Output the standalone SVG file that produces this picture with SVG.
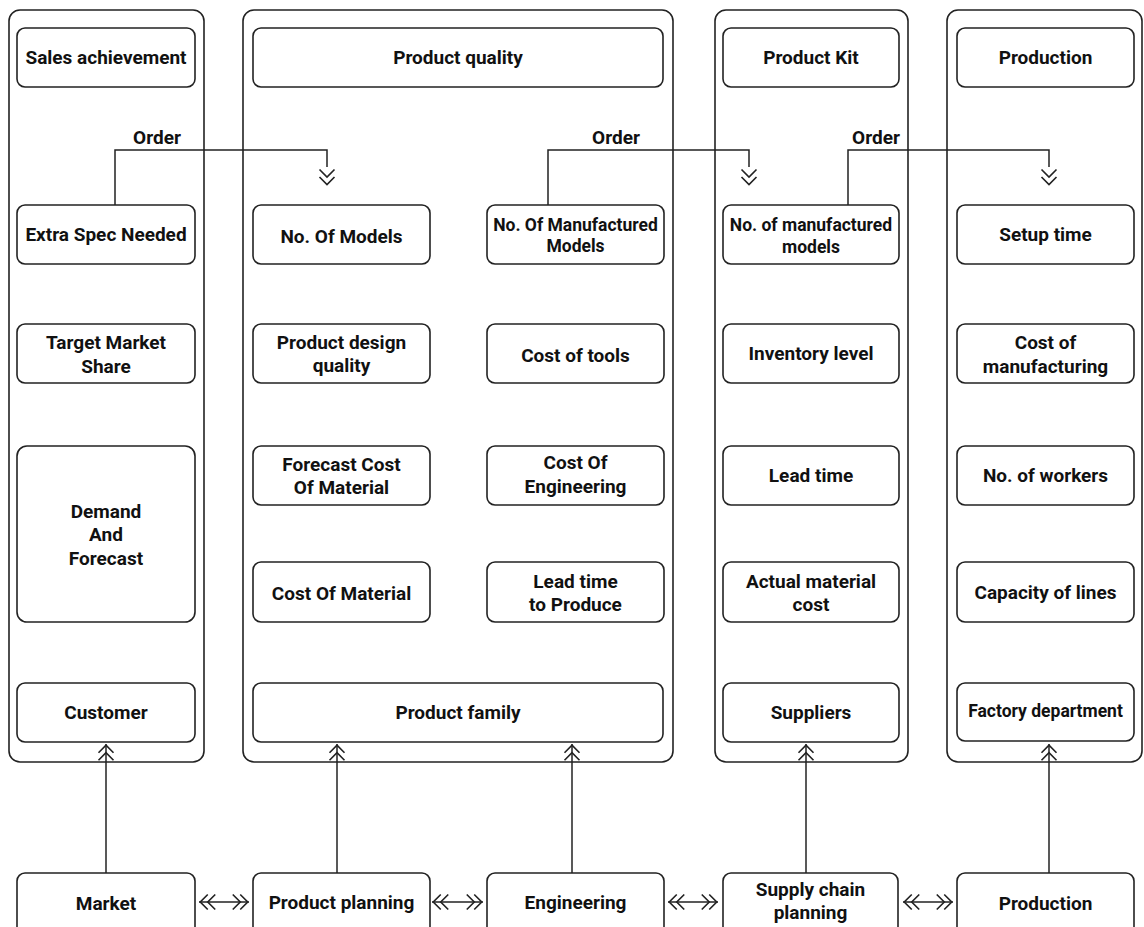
<svg xmlns="http://www.w3.org/2000/svg" width="1144" height="927" viewBox="0 0 1144 927">
<defs>
<style>
.col{fill:none;stroke:#222;stroke-width:1.6}
.box{fill:#fff;stroke:#222;stroke-width:1.6}
.t{font-family:Roboto,"Liberation Sans",sans-serif;font-weight:bold;font-size:19px;fill:#111;text-anchor:middle;dominant-baseline:central}
.s{font-size:17.5px}
.c{fill:none;stroke:#222;stroke-width:1.5}
</style>
<marker id="dbl" markerUnits="userSpaceOnUse" markerWidth="20" markerHeight="20" viewBox="-14 -8 16 16" refX="0" refY="0" orient="auto-start-reverse" overflow="visible">
<path d="M-13,-6 L-7,0 L-13,6 M-7,-6 L-1,0 L-7,6" fill="none" stroke="#222" stroke-width="1.3"/>
</marker>
<marker id="dblOff" markerUnits="userSpaceOnUse" markerWidth="20" markerHeight="20" viewBox="-14 -8 16 16" refX="-15" refY="0" orient="auto" overflow="visible">
<path d="M-13,-6 L-7,0 L-13,6 M-7,-6 L-1,0 L-7,6" fill="none" stroke="#222" stroke-width="1.3"/>
</marker>
</defs>
<rect width="1144" height="927" fill="#fff"/>

<g id="columns">
<rect id="col-market" class="col" x="9" y="10" width="195" height="752" rx="11"/>
<rect id="col-product" class="col" x="243" y="10" width="430" height="752" rx="11"/>
<rect id="col-supply" class="col" x="715" y="10" width="193" height="752" rx="11"/>
<rect id="col-production" class="col" x="947" y="10" width="195" height="752" rx="11"/>
</g>

<g id="connectors">
<path class="c" d="M115,205 V150 H327 V167" marker-end="url(#dblOff)"/>
<path class="c" d="M548,205 V150 H749 V167" marker-end="url(#dblOff)"/>
<path class="c" d="M848,205 V150 H1049 V167" marker-end="url(#dblOff)"/>
<path class="c" d="M106,873 V744" marker-end="url(#dbl)"/>
<path class="c" d="M337,873 V744" marker-end="url(#dbl)"/>
<path class="c" d="M572,873 V744" marker-end="url(#dbl)"/>
<path class="c" d="M806,873 V744" marker-end="url(#dbl)"/>
<path class="c" d="M1049,873 V744" marker-end="url(#dbl)"/>
<path class="c" d="M199,902 H249" marker-start="url(#dbl)" marker-end="url(#dbl)"/>
<path class="c" d="M432,902 H483" marker-start="url(#dbl)" marker-end="url(#dbl)"/>
<path class="c" d="M668,902 H718" marker-start="url(#dbl)" marker-end="url(#dbl)"/>
<path class="c" d="M903,902 H953" marker-start="url(#dbl)" marker-end="url(#dbl)"/>
<text class="t" x="157" y="137">Order</text>
<text class="t" x="616" y="137">Order</text>
<text class="t" x="876" y="137">Order</text>
</g>

<g id="sales-achievement"><rect class="box" x="17" y="28" width="178" height="59" rx="8"/><text class="t" x="106" y="57.5">Sales achievement</text></g>
<g id="extra-spec"><rect class="box" x="17" y="205" width="178" height="59" rx="8"/><text class="t" x="106" y="234.5">Extra Spec Needed</text></g>
<g id="target-market"><rect class="box" x="17" y="324" width="178" height="59" rx="8"/><text class="t" x="106" y="342">Target Market</text><text class="t" x="106" y="366">Share</text></g>
<g id="demand-forecast"><rect class="box" x="17" y="446" width="178" height="176" rx="10"/><text class="t" x="106" y="511">Demand</text><text class="t" x="106" y="534">And</text><text class="t" x="106" y="558">Forecast</text></g>
<g id="customer"><rect class="box" x="17" y="683" width="178" height="59" rx="8"/><text class="t" x="106" y="712.5">Customer</text></g>

<g id="product-quality"><rect class="box" x="253" y="28" width="410" height="59" rx="8"/><text class="t" x="458" y="57.5">Product quality</text></g>
<g id="no-of-models"><rect class="box" x="253" y="205" width="177" height="59" rx="8"/><text class="t" x="341.5" y="236">No. Of Models</text></g>
<g id="product-design-quality"><rect class="box" x="253" y="324" width="177" height="59" rx="8"/><text class="t" x="341.5" y="342">Product design</text><text class="t" x="341.5" y="365">quality</text></g>
<g id="forecast-cost-material"><rect class="box" x="253" y="446" width="177" height="59" rx="8"/><text class="t" x="341.5" y="464">Forecast Cost</text><text class="t" x="341.5" y="487">Of Material</text></g>
<g id="cost-of-material"><rect class="box" x="253" y="562" width="177" height="60" rx="8"/><text class="t" x="341.5" y="593">Cost Of Material</text></g>
<g id="no-manufactured-models"><rect class="box" x="487" y="205" width="177" height="59" rx="8"/><text class="t s" x="575.5" y="225">No. Of Manufactured</text><text class="t s" x="575.5" y="246">Models</text></g>
<g id="cost-of-tools"><rect class="box" x="487" y="324" width="177" height="59" rx="8"/><text class="t" x="575.5" y="355">Cost of tools</text></g>
<g id="cost-of-engineering"><rect class="box" x="487" y="446" width="177" height="59" rx="8"/><text class="t" x="575.5" y="462">Cost Of</text><text class="t" x="575.5" y="486">Engineering</text></g>
<g id="lead-time-produce"><rect class="box" x="487" y="562" width="177" height="60" rx="8"/><text class="t" x="575.5" y="581">Lead time</text><text class="t" x="575.5" y="604">to Produce</text></g>
<g id="product-family"><rect class="box" x="253" y="683" width="410" height="59" rx="8"/><text class="t" x="458" y="712.5">Product family</text></g>

<g id="product-kit"><rect class="box" x="723" y="28" width="176" height="59" rx="8"/><text class="t" x="811" y="57.5">Product Kit</text></g>
<g id="no-manufactured-models-2"><rect class="box" x="723" y="205" width="176" height="59" rx="8"/><text class="t s" x="811" y="225">No. of manufactured</text><text class="t s" x="811" y="247">models</text></g>
<g id="inventory-level"><rect class="box" x="723" y="324" width="176" height="59" rx="8"/><text class="t" x="811" y="353">Inventory level</text></g>
<g id="lead-time"><rect class="box" x="723" y="446" width="176" height="59" rx="8"/><text class="t" x="811" y="475">Lead time</text></g>
<g id="actual-material-cost"><rect class="box" x="723" y="562" width="176" height="60" rx="8"/><text class="t" x="811" y="581">Actual material</text><text class="t" x="811" y="604">cost</text></g>
<g id="suppliers"><rect class="box" x="723" y="683" width="176" height="59" rx="8"/><text class="t" x="811" y="712.5">Suppliers</text></g>

<g id="production-top"><rect class="box" x="957" y="28" width="177" height="59" rx="8"/><text class="t" x="1045.5" y="57.5">Production</text></g>
<g id="setup-time"><rect class="box" x="957" y="205" width="177" height="59" rx="8"/><text class="t" x="1045.5" y="234.5">Setup time</text></g>
<g id="cost-of-manufacturing"><rect class="box" x="957" y="324" width="177" height="59" rx="8"/><text class="t" x="1045.5" y="342">Cost of</text><text class="t" x="1045.5" y="366">manufacturing</text></g>
<g id="no-of-workers"><rect class="box" x="957" y="446" width="177" height="59" rx="8"/><text class="t" x="1045.5" y="475">No. of workers</text></g>
<g id="capacity-of-lines"><rect class="box" x="957" y="562" width="177" height="60" rx="8"/><text class="t" x="1045.5" y="592">Capacity of lines</text></g>
<g id="factory-department"><rect class="box" x="957" y="683" width="177" height="58" rx="8"/><text class="t s" x="1045.5" y="711">Factory department</text></g>

<g id="market"><rect class="box" x="17" y="873" width="178" height="70" rx="8"/><text class="t" x="106" y="903">Market</text></g>
<g id="product-planning"><rect class="box" x="253" y="873" width="177" height="70" rx="8"/><text class="t" x="341.5" y="902">Product planning</text></g>
<g id="engineering"><rect class="box" x="487" y="873" width="177" height="70" rx="8"/><text class="t" x="575.5" y="902">Engineering</text></g>
<g id="supply-chain-planning"><rect class="box" x="723" y="873" width="175" height="70" rx="8"/><text class="t" x="810.5" y="889">Supply chain</text><text class="t" x="810.5" y="912">planning</text></g>
<g id="production-bottom"><rect class="box" x="957" y="873" width="177" height="70" rx="8"/><text class="t" x="1045.5" y="903">Production</text></g>
</svg>
